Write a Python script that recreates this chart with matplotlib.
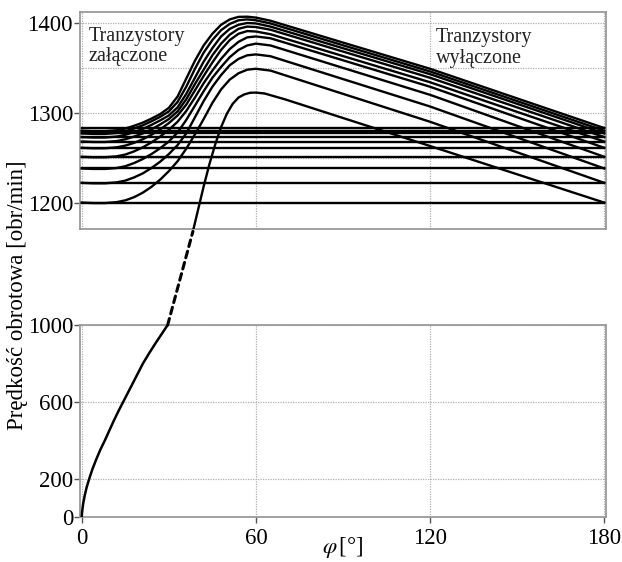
#!/usr/bin/python
"""
Predkosc obrotowa silnika - rozruch i stan ustalony (dwa panele).
"""

import matplotlib
matplotlib.use("Agg")
import matplotlib.pyplot as plt
from matplotlib.patches import ConnectionPatch

plt.rcParams['font.family'] = ['Liberation Serif', 'DejaVu Serif']
plt.rcParams['mathtext.fontset'] = 'stix'

# poziomy predkosci na poczatku kolejnych cykli [obr/min]
LEVELS = [1200, 1222, 1238, 1251, 1261, 1268, 1273, 1277, 1280, 1283]

# rozruch (dolny panel) - phi [deg], n [obr/min]
START_PHI = [0, 0.15, 0.5, 1.0, 1.7, 2.6, 3.7, 5.0, 6.4, 8.0, 9.5, 11.0, 12.6, 14.3, 16.0,
             17.7, 19.4, 21.1, 23.1, 25.2, 27.4, 29.6]
START_N = [0, 30, 70, 110, 155, 200, 250, 300, 350, 400, 450, 500, 550, 600, 650, 700, 750,
           800, 850, 900, 950, 1000]

# dalszy ciag rozruchu w gornym panelu
TRANS_PHI = [38.3, 40, 42, 44, 46, 48, 50, 52, 54, 56, 58, 60, 63, 70, 120, 180]
TRANS_N = [1168, 1191, 1218, 1243, 1265, 1284, 1299, 1310, 1317, 1320.5, 1322.3, 1322.5,
           1321.5, 1315, 1263, 1200]

# kolejne cykle: start z poziomu LEVELS[i], koniec na LEVELS[i+1]
CYCLE_PHI = [0, 4, 8, 12, 15, 18, 21, 24, 27, 30, 33, 36, 39, 42, 45, 48, 51, 54, 57, 60,
             65, 120, 180]
CYCLE_N = [
    [1200, 1199.5, 1199.5, 1200.5, 1202.5, 1206, 1211, 1217.5, 1225.5, 1235, 1246, 1260, 1276,
     1293, 1311, 1326, 1337, 1344, 1348, 1349, 1347, 1290, 1222],
    [1222, 1221.5, 1221.5, 1222.5, 1224.5, 1228, 1232.5, 1238.5, 1245.5, 1254, 1264, 1277, 1295,
     1313, 1329, 1342, 1353, 1360, 1364, 1365, 1363, 1307, 1238],
    [1238, 1237.5, 1237.5, 1238.5, 1240.5, 1244, 1248.5, 1254, 1260.5, 1268, 1278, 1292, 1308,
     1324, 1339, 1351, 1362, 1370, 1375, 1377, 1375, 1320, 1251],
    [1251, 1250.5, 1250.5, 1251.5, 1253.5, 1257, 1261.5, 1267, 1273.5, 1281, 1290, 1302, 1317,
     1333, 1347, 1360, 1371, 1379, 1384, 1385, 1383, 1329, 1261],
    [1261, 1260.5, 1260.5, 1261.5, 1263.5, 1266.5, 1270.5, 1275.5, 1281.5, 1288.5, 1297, 1309,
     1325, 1341, 1356, 1370, 1381, 1388, 1391, 1390.5, 1387.5, 1334, 1268],
    [1268, 1267.5, 1267.5, 1268.5, 1270.5, 1273.5, 1277, 1281.5, 1287, 1293, 1301.5, 1315, 1332,
     1348, 1364, 1377, 1387, 1393.5, 1396, 1395.5, 1392.5, 1339, 1273],
    [1273, 1272.5, 1272.5, 1273.5, 1275.5, 1278.5, 1282, 1286.5, 1291.5, 1297, 1306, 1321, 1339,
     1357, 1372, 1385, 1393.5, 1398, 1400, 1399.5, 1396, 1343, 1277],
    [1277, 1276.5, 1276.5, 1277.5, 1279.5, 1282.5, 1286, 1290.5, 1295.5, 1301.5, 1312, 1329, 1349,
     1367, 1381, 1392, 1399, 1403, 1404, 1403, 1399.5, 1346, 1280],
    [1280, 1279.5, 1279.5, 1280.5, 1282.5, 1285.5, 1289, 1293.5, 1298.5, 1305.5, 1318, 1338, 1358,
     1375, 1388, 1398, 1404, 1406.8, 1407, 1406, 1402.5, 1349, 1283],
]

TOP_YTICKS = [1200, 1300, 1400]
TOP_YGRID = [1200, 1250, 1300, 1350, 1400]
BOT_YTICKS = [0, 200, 600, 1000]
XTICKS = [0, 60, 120, 180]

FRAME = '#9a9a9a'
GRID = '#b0b0b0'


def style_axes(axis):
    """ramka, siatka i podpisy osi"""
    for spine in axis.spines.values():
        spine.set_color(FRAME)
        spine.set_linewidth(1.3)
    axis.tick_params(direction='out', length=4, width=1, color='#555555',
                     labelsize=16.5, pad=1)
    axis.set_xlim(-0.6, 180.6)
    axis.set_xticks(XTICKS)
    for val in XTICKS:
        axis.axvline(val, color=GRID, lw=0.9, ls=(0, (1, 1)), zorder=1)


fig = plt.figure(figsize=(6.22, 5.62), dpi=100)
ax_top = fig.add_axes([0.1286, 0.5925, 0.8457, 0.3853])
ax_bot = fig.add_axes([0.1286, 0.0801, 0.8457, 0.3416])

# --- gorny panel ---
style_axes(ax_top)
ax_top.set_ylim(1170.6, 1411.7)
ax_top.set_yticks(TOP_YTICKS)
ax_top.set_xticklabels([])
ax_top.tick_params(axis='x', length=0)
for val in TOP_YGRID:
    ax_top.axhline(val, color=GRID, lw=0.9, ls=(0, (1, 1)), zorder=1)

for lev in LEVELS:
    ax_top.plot([0, 180], [lev, lev], color='black', lw=1.7, zorder=3)
for n in CYCLE_N:
    ax_top.plot(CYCLE_PHI, n, color='black', lw=1.7, zorder=3)
ax_top.plot(TRANS_PHI, TRANS_N, color='black', lw=1.7, zorder=3)

ax_top.text(2.3, 1374, 'Tranzystory\nzałączone', fontsize=14.5, va='center', ha='left',
            linespacing=1.1, color='#222222')
ax_top.text(122, 1372, 'Tranzystory\nwyłączone', fontsize=14.5, va='center', ha='left',
            linespacing=1.1, color='#222222')

# --- dolny panel ---
style_axes(ax_bot)
ax_bot.set_ylim(0, 1000)
ax_bot.set_yticks(BOT_YTICKS)
ax_bot.tick_params(axis='x', pad=4)
for val in BOT_YTICKS:
    ax_bot.axhline(val, color=GRID, lw=0.9, ls=(0, (1, 1)), zorder=1)
ax_bot.plot(START_PHI, START_N, color='black', lw=1.8, zorder=3)
ax_bot.set_xlabel(r'$\varphi\,$[°]', fontsize=16.5)
ax_bot.xaxis.set_label_coords(0.5, -0.095)

# przerwa osi - linia kreskowana miedzy panelami
dash = ConnectionPatch(xyA=(START_PHI[-1], START_N[-1]), coordsA=ax_bot.transData,
                       xyB=(TRANS_PHI[0], TRANS_N[0]), coordsB=ax_top.transData,
                       color='black', lw=2.2, ls=(0, (2.2, 1.6)))
fig.add_artist(dash)

fig.text(0.028, 0.475, 'Prędkość obrotowa [obr/min]', rotation=90, fontsize=16.5,
         ha='center', va='center')

fig.savefig('out.png', dpi=100)
